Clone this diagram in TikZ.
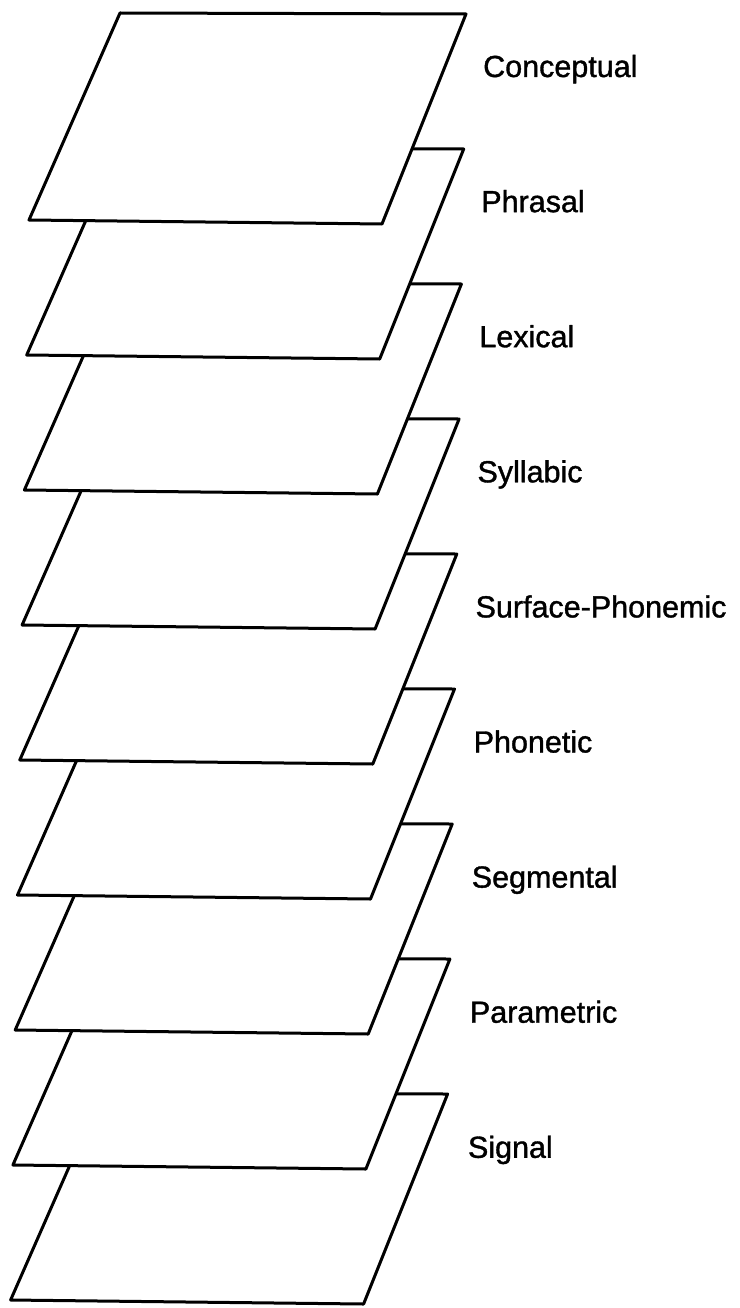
\documentclass[tikz,border=0pt]{standalone}
\usepackage{fontspec}
\setmainfont{Liberation Sans}
\newfontfamily\levelfont[FakeBold=1.2]{Liberation Sans}

\begin{document}
\begin{tikzpicture}[x=1pt, y=-1pt, line join=round,
  plate/.style={draw=black, fill=white, line width=3pt},
  levelname/.style={anchor=base west, inner sep=0pt, font=\levelfont\fontsize{30.5}{32}\selectfont}]
  \useasboundingbox (0,0) rectangle (739,1308);
  % stacked planes, bottom one first so each upper plane hides the next
  \foreach \i in {8,7,...,0}
    \draw[plate, shift={(-2.3*\i,135*\i)}] (120,13) -- (466,14) -- (382,224) -- (29,220) -- cycle;
  % level names
  \foreach \name [count=\i from 0] in {Conceptual,Phrasal,Lexical,Syllabic,Surface-Phonemic,Phonetic,Segmental,Parametric,Signal}
    \node[levelname] (lev\i) at (483-1.9*\i, 77+135.1*\i) {\name};
\end{tikzpicture}
\end{document}
